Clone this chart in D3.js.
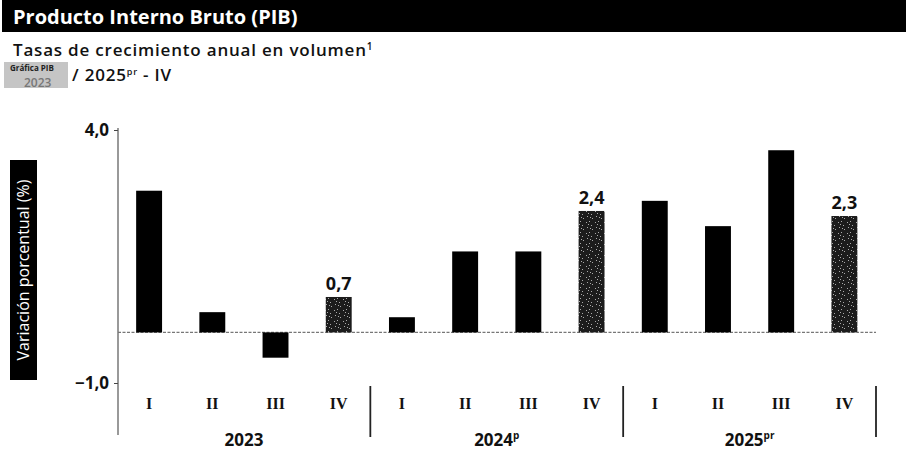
<!DOCTYPE html>
<html><head><meta charset="utf-8">
<script src="https://cdn.jsdelivr.net/npm/d3@7"></script>
<style>
body{margin:0;background:#fff;}
svg{display:block;font-family:"Open Sans",sans-serif;}
</style></head>
<body><svg id="c" width="906" height="465"></svg>
<script>
const quarters = ["I","II","III","IV","I","II","III","IV","I","II","III","IV"];
const yearLabels = ["2023","2024","2025"];
const yearSups = ["","p","pr"];
const values = [2.8, 0.4, -0.5, 0.7, 0.3, 1.6, 1.6, 2.4, 2.6, 2.1, 3.6, 2.3];
const highlighted = [false,false,false,true,false,false,false,true,false,false,false,true];
const valueLabels = ["","","","0,7","","","","2,4","","","","2,3"];
const yTicks = [4.0, -1.0];

const svg = d3.select("#c");
const defs = svg.append("defs");
const pat = defs.append("pattern").attr("id","speck").attr("patternUnits","userSpaceOnUse")
  .attr("width",9).attr("height",11);
pat.append("rect").attr("width",9).attr("height",11).attr("fill","#1c1c1c");
[[1,2],[4,1],[6,5],[2,7],[7,9],[3,4],[5,8]].forEach(([a,b])=>{
  pat.append("rect").attr("x",a).attr("y",b).attr("width",1).attr("height",1).attr("fill","#aaa");
});

// title bar
svg.append("rect").attr("x",2).attr("y",0).attr("width",904).attr("height",32).attr("fill","#000");
svg.append("text").attr("x",13).attr("y",24).attr("fill","#fff").attr("font-size",20).attr("font-weight",700)
  .text("Producto Interno Bruto (PIB)");
const sub = svg.append("text").attr("x",13).attr("y",56).attr("fill","#111").attr("font-size",17).attr("font-weight",600)
  .attr("letter-spacing",0.8);
sub.text("Tasas de crecimiento anual en volumen");
sub.append("tspan").attr("font-size",10).attr("dy",-6).text("1");

// second subtitle line with gray stamp
svg.append("rect").attr("x",4).attr("y",62).attr("width",64).attr("height",26).attr("fill","#bbb").attr("opacity",0.85);
svg.append("text").attr("x",10).attr("y",71).attr("font-size",8).attr("font-weight",700).attr("fill","#222").text("Gráfica PIB");
svg.append("text").attr("x",24).attr("y",87).attr("font-size",12).attr("font-weight",600).attr("fill","#777").text("2023");
const sub2 = svg.append("text").attr("x",72).attr("y",81).attr("fill","#111").attr("font-size",17).attr("font-weight",600)
  .attr("letter-spacing",0.8);
sub2.append("tspan").text("/ 2025");
sub2.append("tspan").attr("font-size",9).attr("dy",-6).text("pr");
sub2.append("tspan").attr("dy",6).text(" - IV");

// scales
const y = d3.scaleLinear().domain([-1,4]).range([383,130]);
const x = d3.scaleBand().domain(d3.range(values.length)).range([117.5,876]).paddingInner(0.59).paddingOuter(0.295);

// y axis label box
svg.append("rect").attr("x",10).attr("y",160).attr("width",27).attr("height",220).attr("fill","#000");
svg.append("text").attr("transform","translate(29,270) rotate(-90)").attr("text-anchor","middle")
  .attr("fill","#fff").attr("font-size",16).attr("font-weight",500).text("Variación porcentual (%)");

// y axis
const yAxis = d3.axisLeft(y).tickValues(yTicks).tickSize(4).tickFormat(d=>d3.format(".1f")(d).replace(".",","));
const ga = svg.append("g").attr("transform","translate(118,0)").call(yAxis);
ga.select(".domain").remove();
ga.selectAll("text").attr("font-size",17).attr("font-weight",700).attr("fill","#111").attr("font-family","Open Sans").attr("dx",-2);
ga.selectAll("line").attr("stroke","#444");
svg.append("line").attr("x1",118).attr("x2",118).attr("y1",128).attr("y2",435).attr("stroke","#555").attr("stroke-width",1.2);

// zero line
svg.append("line").attr("x1",118).attr("x2",876).attr("y1",y(0)).attr("y2",y(0))
  .attr("stroke","#777").attr("stroke-width",1.2).attr("stroke-dasharray","3,1.5");

// bars
svg.selectAll(".bar").data(values).join("rect").attr("class","bar")
  .attr("x",(d,i)=>x(i)).attr("width",x.bandwidth())
  .attr("y",d=>y(Math.max(0,d))).attr("height",d=>Math.abs(y(d)-y(0)))
  .attr("fill",(d,i)=>highlighted[i]?"url(#speck)":"#000");

// value labels
svg.selectAll(".vl").data(values).join("text").attr("class","vl")
  .attr("x",(d,i)=>x(i)+x.bandwidth()/2).attr("y",d=>y(d)-7).attr("text-anchor","middle")
  .attr("font-size",18).attr("font-weight",700).attr("fill","#111")
  .text((d,i)=>valueLabels[i]);

// quarter labels
svg.selectAll(".ql").data(quarters).join("text").attr("class","ql")
  .attr("x",(d,i)=>x(i)+x.bandwidth()/2).attr("y",409).attr("text-anchor","middle")
  .attr("font-size",16).attr("font-weight",700).attr("font-family","Liberation Serif").attr("fill","#111").text(d=>d);

// separators
const step = x.step();
[4,8,12].forEach(k=>{
  const sx = x(k-1)+x.bandwidth()/2+step/2;
  svg.append("line").attr("x1",sx).attr("x2",sx).attr("y1",386).attr("y2",437).attr("stroke","#222").attr("stroke-width",1.8);
});

// year labels
yearLabels.forEach((lab,gi)=>{
  const cx = (x(gi*4)+x(gi*4+3)+x.bandwidth())/2;
  const t = svg.append("text").attr("x",cx).attr("y",446).attr("text-anchor","middle")
    .attr("font-size",17).attr("font-weight",700).attr("fill","#111");
  t.append("tspan").text(lab);
  if(yearSups[gi]) t.append("tspan").attr("font-size",10).attr("dy",-7).text(yearSups[gi]);
});
</script></body></html>
